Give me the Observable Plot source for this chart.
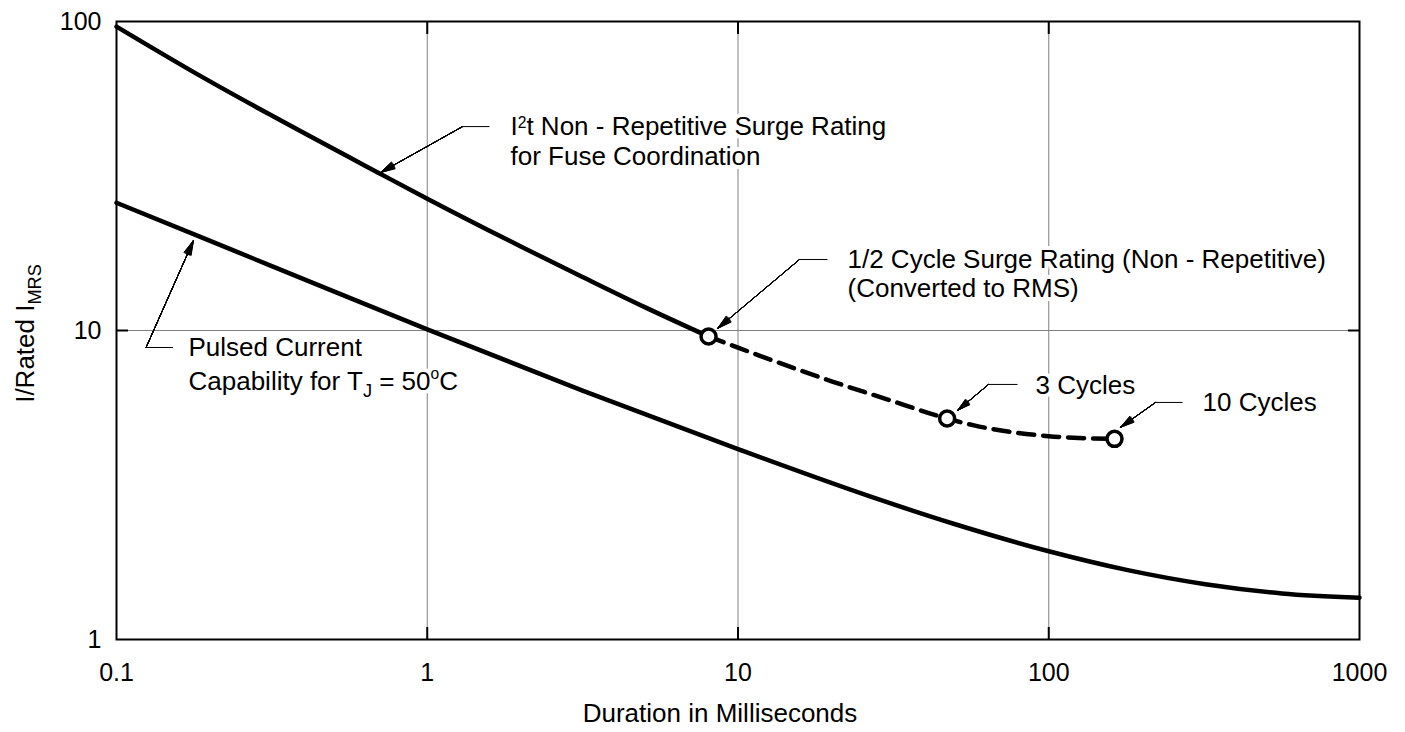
<!DOCTYPE html>
<html>
<head>
<meta charset="utf-8">
<script src="https://cdn.jsdelivr.net/npm/d3@7"></script>
<script src="https://cdn.jsdelivr.net/npm/@observablehq/plot@0.6"></script>
<style>
  html, body { margin: 0; padding: 0; background: #fff; }
</style>
</head>
<body>
<div id="chart"></div>
<script>
// ---- axis ticks ----
const xTicks = [0.1, 1, 10, 100, 1000];
const xTickLabels = ["0.1", "1", "10", "100", "1000"];
const yTicks = [1, 10, 100];
const yTickLabels = ["1", "10", "100"];
const xInnerTicks = [1, 10, 100];
const yInnerTicks = [10];

// ---- I2t non-repetitive surge rating (solid upper curve) ----
const i2tDuration = [0.1, 0.186, 0.316, 0.708, 1, 2, 3.16, 5.01, 8.04];
const i2tRatio    = [96.3, 66.7, 49.6, 32.1, 26.7, 18.7, 14.9, 11.9, 9.56];

// ---- pulsed current capability (solid lower curve) ----
const pulsedDuration = [0.1, 0.177, 0.316, 1, 3.16, 10, 26.3, 50, 100, 178, 319, 562, 1000];
const pulsedRatio    = [25.9, 20.5, 16.16, 10.08, 6.39, 4.13, 2.915, 2.36, 1.93, 1.68, 1.51, 1.41, 1.365];

// ---- cycle surge rating (dashed curve) ----
const surgeDuration = [8.04, 10, 20, 30, 47.1, 57.5, 78.6, 100, 125, 162.8];
const surgeRatio    = [9.56, 8.80, 6.85, 6.0, 5.19, 4.93, 4.67, 4.55, 4.49, 4.46];

// ---- circled points: 1/2 cycle, 3 cycles, 10 cycles ----
const markerDuration = [8.04, 47.1, 162.8];
const markerRatio    = [9.56, 5.19, 4.46];

// ---- annotation text lines ----
const noteText = [
  "I^{2}t Non - Repetitive Surge Rating",
  "for Fuse Coordination",
  "Pulsed Current",
  "Capability for T_{J} = 50^{o}C",
  "1/2 Cycle Surge Rating (Non - Repetitive)",
  "(Converted to RMS)",
  "3 Cycles",
  "10 Cycles"
];
const noteDuration = [1.853, 1.853, 0.1705, 0.1705, 22.51, 22.51, 90.66, 312.5];
const noteRatio    = [42.8, 34.2, 8.24, 6.44, 15.99, 12.79, 6.21, 5.47];

// ---- leader lines: start near text -> elbow -> arrow tip ----
const leaderStartDuration = [1.586, 0.1520, 19.41, 79.33, 269.4];
const leaderElbowDuration = [1.299, 0.1245, 15.77, 64.0, 220.6];
const leaderRatio         = [45.7, 8.81, 16.97, 6.69, 5.85];
const arrowTipDuration    = [0.7072, 0.1769, 8.59, 50.86, 170.2];
const arrowTipRatio       = [32.45, 19.56, 10.15, 5.51, 4.86];

const xTitle = "Duration in Milliseconds";
const yTitle = "I/Rated I_{MRS}";

const idx = (arr) => arr.map((_, i) => i);
const FONT = '"Liberation Sans", Arial, Helvetica, sans-serif';

const arrowFill = [2, 6, 10, 14, 18, 22, 26, 30].map(a =>
  Plot.arrow(idx(arrowTipDuration), {
    x1: i => leaderElbowDuration[i], y1: i => leaderRatio[i],
    x2: i => arrowTipDuration[i], y2: i => arrowTipRatio[i],
    stroke: "black", strokeWidth: 1, headAngle: a, headLength: 22.5
  })
);

const noteOptions = {
  x: i => noteDuration[i], y: i => noteRatio[i], text: i => noteText[i],
  textAnchor: "start", lineAnchor: "bottom", fontSize: 26
};

const chart = Plot.plot({
  width: 1405,
  height: 732,
  marginLeft: 116,
  marginRight: 46,
  marginTop: 21,
  marginBottom: 93,
  style: { fontFamily: FONT, background: "white", color: "black", overflow: "visible" },
  x: { type: "log", domain: [0.1, 1000] },
  y: { type: "log", domain: [1, 100] },
  marks: [
    Plot.gridX(xInnerTicks, { stroke: "#808080", strokeOpacity: 1, strokeWidth: 1 }),
    Plot.gridY(yInnerTicks, { stroke: "#808080", strokeOpacity: 1, strokeWidth: 1 }),

    // white knock-out behind the annotation text, then the text itself
    Plot.text(idx(noteText), { ...noteOptions, fill: "white", stroke: "white", strokeWidth: 8 }),
    Plot.text(idx(noteText), { ...noteOptions, fill: "black" }),

    Plot.line(idx(i2tDuration), {
      x: i => i2tDuration[i], y: i => i2tRatio[i],
      stroke: "black", strokeWidth: 4.5, curve: "monotone-x"
    }),
    Plot.line(idx(pulsedDuration), {
      x: i => pulsedDuration[i], y: i => pulsedRatio[i],
      stroke: "black", strokeWidth: 4.5, curve: "monotone-x"
    }),
    Plot.line(idx(surgeDuration), {
      x: i => surgeDuration[i], y: i => surgeRatio[i],
      stroke: "black", strokeWidth: 4.5, strokeDasharray: "16,9", curve: "monotone-x"
    }),

    Plot.link(idx(leaderStartDuration), {
      x1: i => leaderStartDuration[i], y1: i => leaderRatio[i],
      x2: i => leaderElbowDuration[i], y2: i => leaderRatio[i],
      stroke: "black", strokeWidth: 1
    }),
    ...arrowFill,

    Plot.dot(idx(markerDuration), {
      x: i => markerDuration[i], y: i => markerRatio[i],
      r: 7.5, fill: "white", stroke: "black", strokeWidth: 3.5
    }),

    Plot.frame({ stroke: "black", strokeWidth: 2 }),

    Plot.axisX(xInnerTicks, { anchor: "bottom", tickSize: 12, dy: -12, fill: "none", stroke: "black", strokeWidth: 2, label: null }),
    Plot.axisX(xInnerTicks, { anchor: "top", tickSize: 12, dy: 12, fill: "none", stroke: "black", strokeWidth: 2, label: null }),
    Plot.axisY(yInnerTicks, { anchor: "left", tickSize: 12, dx: 12, fill: "none", stroke: "black", strokeWidth: 2, label: null }),
    Plot.axisY(yInnerTicks, { anchor: "right", tickSize: 12, dx: -12, fill: "none", stroke: "black", strokeWidth: 2, label: null }),

    Plot.axisX(xTicks, {
      anchor: "bottom", tickSize: 0, tickPadding: 24, fontSize: 25, label: null,
      tickFormat: d => xTickLabels[xTicks.indexOf(d)]
    }),
    Plot.axisY(yTicks, {
      anchor: "left", tickSize: 0, tickPadding: 15, fontSize: 25, label: null,
      tickFormat: d => yTickLabels[yTicks.indexOf(d)]
    }),

    Plot.text([xTitle], { frameAnchor: "bottom", dx: -18, dy: 82, lineAnchor: "bottom", fontSize: 26, fill: "black" }),
    Plot.text([yTitle], { frameAnchor: "left", dx: -83, dy: 3, rotate: -90, lineAnchor: "bottom", textAnchor: "middle", fontSize: 26, fill: "black" })
  ]
});

document.getElementById("chart").appendChild(chart);

// Render _{...} as subscripts and ^{...} as top-aligned superscripts (real text tspans)
function applyScripts(root) {
  const NS = "http://www.w3.org/2000/svg";
  root.querySelectorAll("text").forEach(t => {
    const s = t.textContent;
    if (!/[_^]\{/.test(s)) return;
    const fs = parseFloat(getComputedStyle(t).fontSize) || 26;
    const parts = s.split(/([_^]\{[^}]*\})/).filter(p => p.length);
    t.textContent = "";
    let shift = 0;
    for (const p of parts) {
      const span = document.createElementNS(NS, "tspan");
      let target = 0, size = null, txt = p;
      if (p.startsWith("_{")) {
        txt = p.slice(2, -1); size = 0.7 * fs; target = 0.27 * fs;
      } else if (p.startsWith("^{")) {
        txt = p.slice(2, -1); size = 0.6 * fs;
        const h = /^[acemnorsuvwxz]+$/.test(txt) ? 0.519 : 0.716;
        target = -(0.716 * fs - h * size);
      }
      if (target - shift !== 0) span.setAttribute("dy", target - shift);
      shift = target;
      if (size) span.setAttribute("font-size", size);
      span.textContent = txt;
      t.appendChild(span);
    }
  });
}
applyScripts(chart);
</script>
</body>
</html>
